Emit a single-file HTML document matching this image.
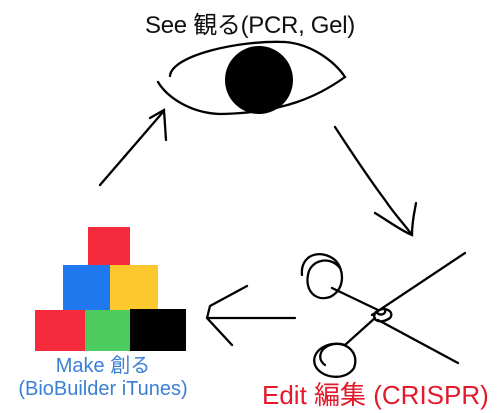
<!DOCTYPE html>
<html><head><style>
body{margin:0;width:500px;height:413px;background:#fff;overflow:hidden;position:relative;font-family:"Liberation Sans","Noto Sans CJK JP",sans-serif}
.t{position:absolute;white-space:nowrap}
</style></head><body>
<div class="t" style="left:0;width:500px;text-align:center;top:5px;font-size:24px;color:#111;letter-spacing:-0.3px">See 観る(PCR, Gel)</div>
<div style="position:absolute;left:88px;top:227px;width:42px;height:40px;background:#f52a3c"></div>
<div style="position:absolute;left:63px;top:265px;width:48px;height:45px;background:#1f78ee"></div>
<div style="position:absolute;left:110px;top:265px;width:48px;height:45px;background:#fcc82e"></div>
<div style="position:absolute;left:35px;top:310px;width:51px;height:41px;background:#f52a3c"></div>
<div style="position:absolute;left:85px;top:310px;width:46px;height:41px;background:#4ccc5e"></div>
<div style="position:absolute;left:130px;top:309px;width:56px;height:42px;background:#000"></div>
<div class="t" style="left:0;width:206px;text-align:center;top:355px;font-size:20px;color:#3a7fd5;line-height:23px">Make 創る<br>(BioBuilder iTunes)</div>
<div class="t" style="left:262px;top:375px;font-size:26px;color:#e21a2c">Edit 編集 (CRISPR)</div>
<svg width="500" height="413" style="position:absolute;left:0;top:0" fill="none" stroke="#000" stroke-width="2.3" stroke-linecap="round">
<path d="M170 76 C172 55 240 40 285 42 C312 44 335 62 345 77 C320 95 285 113 220 114 C190 113 167 97 158 82"/>
<circle cx="259" cy="80" r="34" fill="#000" stroke="none"/>
<path d="M100 185 L163 112 M150 118 L164 110 L166 140"/>
<path d="M335 127 C350 150 370 180 385 200 C395 215 405 225 412 235 M375 213 C390 222 400 230 412 235 C412 220 415 210 416 203"/>
<path d="M295 318 L207 318 M247 286 L210 306 L207 318 L232 345"/>
<path d="M302 275 C300 255 320 248 335 260 C345 270 345 290 330 297 C315 302 305 290 308 275 C310 260 330 255 340 268 M332 288 L378 310 M372 315 L465 253 M378 320 L458 363 M376 312 C370 320 380 325 390 318 C395 312 385 305 376 312 C382 318 388 312 384 308 M375 318 L345 345 C330 340 310 350 315 365 C320 378 345 382 354 368 C360 352 345 340 330 345 C318 350 318 360 325 365"/>
</svg>
</body></html>
